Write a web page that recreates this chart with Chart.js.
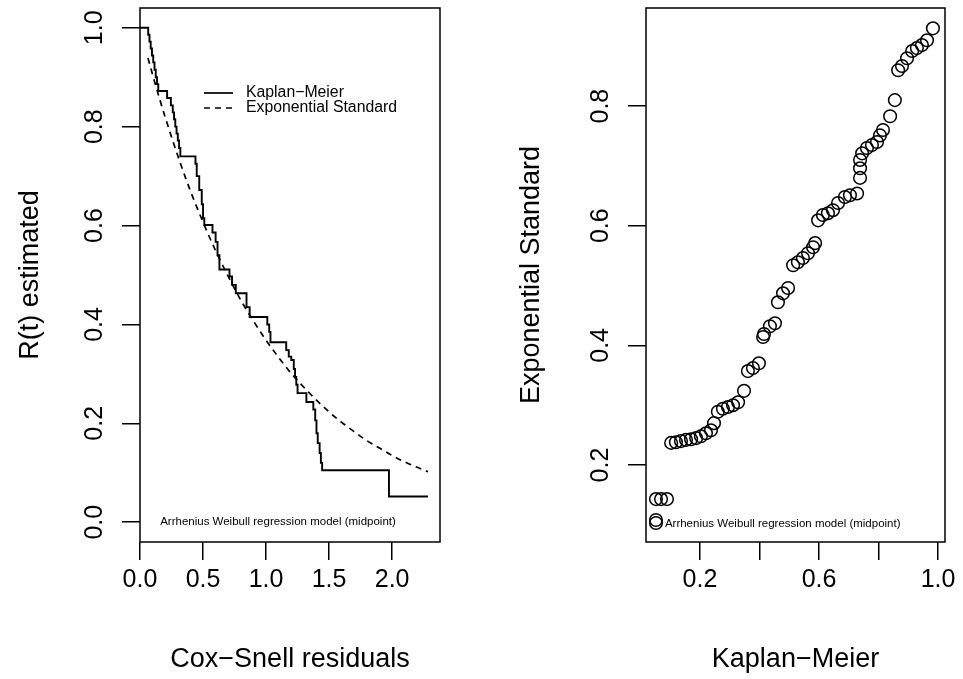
<!DOCTYPE html>
<html>
<head>
<meta charset="utf-8">
<script src="https://cdn.jsdelivr.net/npm/chart.js@4.4.1/dist/chart.umd.min.js"></script>
<style>
  html, body { margin: 0; padding: 0; background: #fff; }
  #wrap { position: relative; width: 963px; height: 679px; }
  .panel { position: absolute; top: 0; height: 679px; }
</style>
</head>
<body>
<div id="wrap">
  <div class="panel" style="left:0;width:481px"><canvas id="km-chart" width="481" height="679"></canvas></div>
  <div class="panel" style="left:481px;width:482px"><canvas id="pp-chart" width="482" height="679"></canvas></div>
</div>
<script>
// left panel: Kaplan-Meier steps of the Cox-Snell residuals
const kmTimes = [0, 0.065, 0.075, 0.085, 0.095, 0.105, 0.115, 0.125, 0.135, 0.145, 0.215, 0.245, 0.26, 0.27,
    0.28, 0.29, 0.30, 0.31, 0.32, 0.44, 0.45, 0.47, 0.49, 0.50, 0.51, 0.575, 0.60, 0.615, 0.63, 0.71, 0.73,
    0.76, 0.845, 0.87, 1.01, 1.025, 1.035, 1.16, 1.18, 1.20, 1.22, 1.23, 1.24, 1.25, 1.32, 1.375, 1.39,
    1.40, 1.41, 1.425, 1.435, 1.445, 1.975, 2.285];
const kmSurv = [1.0, 0.986, 0.972, 0.958, 0.944, 0.930, 0.915, 0.900, 0.886, 0.872, 0.858, 0.843, 0.829, 0.815,
    0.800, 0.786, 0.772, 0.757, 0.740, 0.725, 0.700, 0.672, 0.643, 0.615, 0.601, 0.586, 0.567, 0.540, 0.511,
    0.497, 0.480, 0.463, 0.435, 0.415, 0.400, 0.385, 0.364, 0.348, 0.335, 0.328, 0.310, 0.294, 0.278, 0.261,
    0.243, 0.228, 0.206, 0.180, 0.160, 0.140, 0.120, 0.105, 0.052, 0.052];
// exponential standard curve
const expTimes = [0.063, 0.1, 0.15, 0.2, 0.3, 0.4, 0.5, 0.6, 0.7, 0.8, 0.9, 1.0, 1.1, 1.2, 1.3, 1.4, 1.5,
    1.6, 1.7, 1.8, 1.9, 2.0, 2.1, 2.2, 2.285];
const expSurv = [0.939, 0.905, 0.861, 0.819, 0.741, 0.670, 0.607, 0.549, 0.497, 0.449, 0.407, 0.368, 0.333,
    0.301, 0.273, 0.247, 0.223, 0.202, 0.183, 0.165, 0.150, 0.135, 0.122, 0.111, 0.102];

// right panel: Kaplan-Meier vs exponential standard
const ppKM = [0.052, 0.052, 0.052, 0.069, 0.089, 0.103, 0.119, 0.136, 0.153, 0.170, 0.187, 0.203, 0.220, 0.237,
    0.247, 0.260, 0.277, 0.294, 0.311, 0.328, 0.348, 0.361, 0.378, 0.398, 0.412, 0.415, 0.435, 0.452, 0.462,
    0.479, 0.496, 0.513, 0.529, 0.546, 0.563, 0.580, 0.587, 0.597, 0.613, 0.630, 0.647, 0.664, 0.687, 0.704,
    0.728, 0.738, 0.738, 0.738, 0.745, 0.761, 0.778, 0.795, 0.805, 0.815, 0.839, 0.855, 0.866, 0.879, 0.896,
    0.913, 0.929, 0.946, 0.963, 0.983];
const ppExp = [0.103, 0.108, 0.143, 0.143, 0.143, 0.237, 0.238, 0.240, 0.242, 0.243, 0.245, 0.248, 0.253, 0.258,
    0.270, 0.289, 0.294, 0.297, 0.300, 0.305, 0.324, 0.357, 0.362, 0.370, 0.414, 0.419, 0.432, 0.437, 0.472,
    0.487, 0.496, 0.534, 0.539, 0.546, 0.554, 0.564, 0.571, 0.609, 0.618, 0.621, 0.626, 0.638, 0.648, 0.651,
    0.654, 0.680, 0.696, 0.710, 0.721, 0.730, 0.735, 0.740, 0.751, 0.760, 0.783, 0.810, 0.860, 0.867, 0.880,
    0.892, 0.897, 0.902, 0.910, 0.930];

// ticks
const kmXTicks = [0, 0.5, 1.0, 1.5, 2.0];
const kmXLabels = ['0.0', '0.5', '1.0', '1.5', '2.0'];
const kmYTicks = [0, 0.2, 0.4, 0.6, 0.8, 1.0];
const kmYLabels = ['0.0', '0.2', '0.4', '0.6', '0.8', '1.0'];
const ppXTicks = [0.2, 0.4, 0.6, 0.8, 1.0];
const ppXLabels = ['0.2', '', '0.6', '', '1.0'];
const ppYTicks = [0.2, 0.4, 0.6, 0.8];
const ppYLabels = ['0.2', '0.4', '0.6', '0.8'];

const legendLabels = ['Kaplan\u2212Meier', 'Exponential Standard'];
const modelNote = 'Arrhenius Weibull regression model (midpoint)';

Chart.defaults.font.family = '"Liberation Sans", Arial, Helvetica, sans-serif';
Chart.defaults.color = '#000';
Chart.defaults.animation = false;

const FONT = '"Liberation Sans", Arial, Helvetica, sans-serif';

// draws the R style box round the plot area
const boxPlugin = {
    id: 'box',
    afterDraw(chart) {
        const { ctx, chartArea: a } = chart;
        ctx.save();
        ctx.strokeStyle = '#000';
        ctx.lineWidth = 1.5;
        ctx.strokeRect(a.left, a.top, a.right - a.left, a.bottom - a.top);
        ctx.restore();
    }
};

function fixedAxis(size, isX) {
    return function (scale) {
        if (isX) scale.height = size; else scale.width = size;
        scale.paddingTop = 0; scale.paddingBottom = 0;
        scale.paddingLeft = 0; scale.paddingRight = 0;
    };
}

function makeScales(o) {
    return {
        x: {
            type: 'linear', min: o.xMin, max: o.xMax,
            afterBuildTicks: s => { s.ticks = o.xTicks.map(v => ({ value: v })); },
            afterFit: fixedAxis(o.xHeight, true),
            border: { display: false },
            grid: { drawOnChartArea: false, tickLength: 18, tickColor: '#000', lineWidth: 1.5 },
            ticks: { autoSkip: false, maxRotation: 0, padding: 5, font: { size: 25 },
                callback: (v, i) => o.xLabels[i] },
            title: { display: true, text: o.xTitle, font: { size: 27 }, padding: { top: 0, bottom: 3 } }
        },
        y: {
            type: 'linear', min: o.yMin, max: o.yMax,
            afterBuildTicks: s => { s.ticks = o.yTicks.map(v => ({ value: v })); },
            afterFit: fixedAxis(o.yWidth, false),
            border: { display: false },
            grid: { drawOnChartArea: false, tickLength: 18, tickColor: '#000', lineWidth: 1.5 },
            ticks: { autoSkip: false, minRotation: 90, maxRotation: 90, crossAlign: 'center', padding: 10,
                font: { size: 25 }, callback: (v, i) => o.yLabels[i] },
            title: { display: true, text: o.yTitle, font: { size: 27 }, padding: { top: o.yTitlePad, bottom: 0 } }
        }
    };
}

// legend and note of the left panel
const kmNotes = {
    id: 'kmNotes',
    afterDraw(chart) {
        const { ctx, chartArea: a, scales } = chart;
        ctx.save();
        ctx.strokeStyle = '#000';
        ctx.lineWidth = 1.7;
        ctx.beginPath();
        ctx.moveTo(a.left + 64, a.top + 85); ctx.lineTo(a.left + 93, a.top + 85);
        ctx.stroke();
        ctx.setLineDash([6, 5]);
        ctx.beginPath();
        ctx.moveTo(a.left + 64, a.top + 100); ctx.lineTo(a.left + 93, a.top + 100);
        ctx.stroke();
        ctx.setLineDash([]);
        ctx.fillStyle = '#000';
        ctx.font = '15.8px ' + FONT;
        ctx.textBaseline = 'middle';
        ctx.fillText(legendLabels[0], a.left + 106, a.top + 85);
        ctx.fillText(legendLabels[1], a.left + 106, a.top + 100);
        ctx.font = '11.5px ' + FONT;
        ctx.fillText(modelNote, scales.x.getPixelForValue(0.16), scales.y.getPixelForValue(0.0));
        ctx.restore();
    }
};

const ppNotes = {
    id: 'ppNotes',
    afterDraw(chart) {
        const { ctx, scales } = chart;
        ctx.save();
        ctx.fillStyle = '#000';
        ctx.font = '11.5px ' + FONT;
        ctx.textBaseline = 'middle';
        ctx.fillText(modelNote, scales.x.getPixelForValue(0.082), scales.y.getPixelForValue(0.101));
        ctx.restore();
    }
};

new Chart(document.getElementById('km-chart'), {
    type: 'line',
    data: {
        datasets: [
            {
                label: legendLabels[0],
                data: kmTimes.map((t, i) => ({ x: t, y: kmSurv[i] })),
                stepped: true,
                borderColor: '#000',
                borderWidth: 1.9,
                pointRadius: 0,
                fill: false
            },
            {
                label: legendLabels[1],
                data: expTimes.map((t, i) => ({ x: t, y: expSurv[i] })),
                borderColor: '#000',
                borderWidth: 1.7,
                borderDash: [6, 5],
                cubicInterpolationMode: 'monotone',
                pointRadius: 0,
                fill: false
            }
        ]
    },
    options: {
        responsive: false,
        layout: { padding: { left: 0, right: 41, top: 8, bottom: 0 } },
        plugins: { legend: { display: false }, tooltip: { enabled: false } },
        scales: makeScales({
            xMin: 0, xMax: 2.38, xTicks: kmXTicks, xLabels: kmXLabels, xHeight: 137,
            xTitle: 'Cox\u2212Snell residuals',
            yMin: -0.04, yMax: 1.04, yTicks: kmYTicks, yLabels: kmYLabels, yWidth: 140,
            yTitle: 'R(t) estimated', yTitlePad: 14
        })
    },
    plugins: [boxPlugin, kmNotes]
});

new Chart(document.getElementById('pp-chart'), {
    type: 'scatter',
    data: {
        datasets: [{
            label: 'KM vs Exponential',
            data: ppKM.map((v, i) => ({ x: v, y: ppExp[i] })),
            pointStyle: 'circle',
            pointRadius: 6.3,
            pointBorderWidth: 1.5,
            pointBackgroundColor: 'rgba(0,0,0,0)',
            pointBorderColor: '#000'
        }]
    },
    options: {
        responsive: false,
        layout: { padding: { left: 0, right: 18, top: 8, bottom: 0 } },
        plugins: { legend: { display: false }, tooltip: { enabled: false } },
        scales: makeScales({
            xMin: 0.0185, xMax: 1.0235, xTicks: ppXTicks, xLabels: ppXLabels, xHeight: 137,
            xTitle: 'Kaplan\u2212Meier',
            yMin: 0.0713, yMax: 0.964, yTicks: ppYTicks, yLabels: ppYLabels, yWidth: 165,
            yTitle: 'Exponential Standard', yTitlePad: 34
        })
    },
    plugins: [boxPlugin, ppNotes]
});
</script>
</body>
</html>
